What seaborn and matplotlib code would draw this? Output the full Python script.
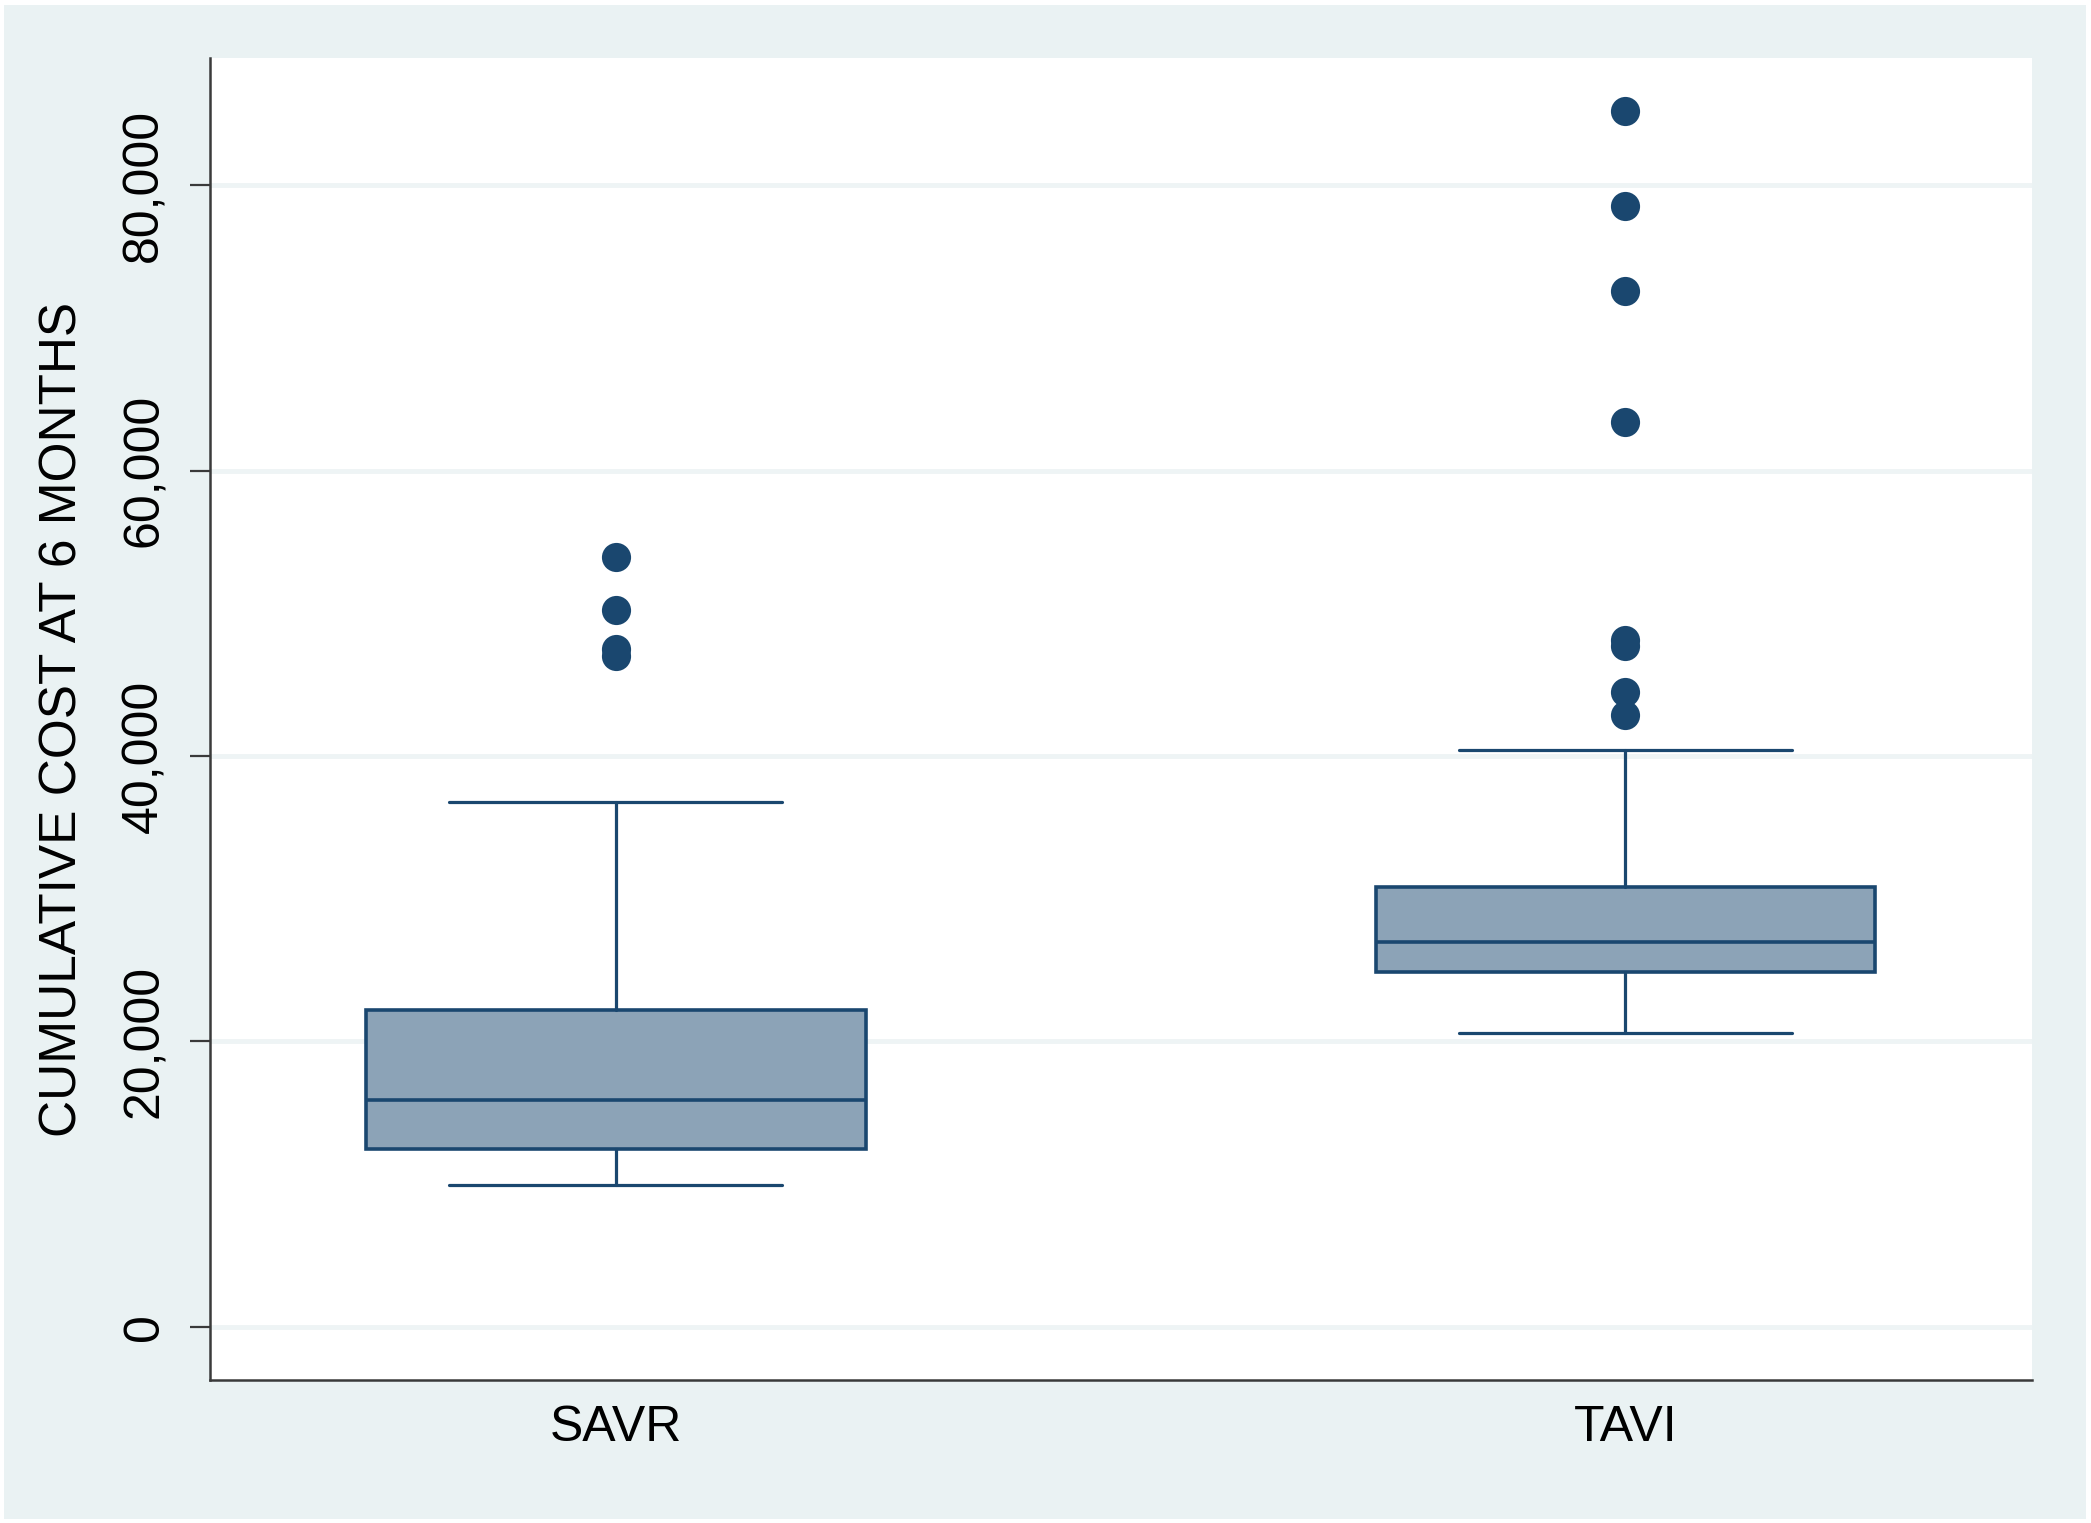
import pandas as pd
import seaborn as sns
import matplotlib.pyplot as plt
from matplotlib.patches import Rectangle
from matplotlib.ticker import FuncFormatter

# === Data ===
groups = ["SAVR", "TAVI"]
whisker_low = [9950, 20570]
q1 = [12450, 24890]
median = [15900, 26990]
q3 = [22200, 30840]
whisker_high = [36800, 40420]
savr_outliers = [53960, 50230, 47500, 47000]
tavi_outliers = [85200, 78500, 72600, 63400, 48100, 47700, 44500, 42900]

y_ticks = [0, 20000, 40000, 60000, 80000]

navy = "#1a476f"
box_fill = "#8ca3b7"
bg = "#eaf2f3"

sns.set_theme(style="white")
plt.rcParams["font.family"] = ["Liberation Sans", "DejaVu Sans"]

fig = plt.figure(figsize=(20.91, 15.23), dpi=100, facecolor="white")
fig.patches.append(Rectangle((4 / 2091, 4 / 1523), 1 - 9 / 2091, 1 - 9 / 1523,
                             transform=fig.transFigure, facecolor=bg,
                             edgecolor="none", zorder=-10))
ax = fig.add_axes([0.1004, 0.0939, 0.8714, 0.868])
ax.set_facecolor("white")

# === Boxes from summary stats ===
stats = []
for i, g in enumerate(groups):
    stats.append({"label": g, "whislo": whisker_low[i], "q1": q1[i],
                  "med": median[i], "q3": q3[i], "whishi": whisker_high[i],
                  "fliers": []})
ax.bxp(stats, positions=[0, 1], widths=0.495, showfliers=False,
       patch_artist=True, manage_ticks=False, capwidths=0.33,
       boxprops=dict(facecolor=box_fill, edgecolor=navy, linewidth=2.6),
       medianprops=dict(color=navy, linewidth=2.6),
       whiskerprops=dict(color=navy, linewidth=2.3),
       capprops=dict(color=navy, linewidth=2.3), zorder=3)

# === Outside values ===
out = pd.DataFrame({
    "group": ["SAVR"] * len(savr_outliers) + ["TAVI"] * len(tavi_outliers),
    "cost": savr_outliers + tavi_outliers,
})
sns.stripplot(data=out, x="group", y="cost", order=groups, jitter=False,
              color=navy, size=21, linewidth=0, ax=ax, zorder=4)

# === Axes styling ===
ax.set_xlim(-0.402, 1.4027)
ax.set_ylim(-3713, 88896)
ax.set_yticks(y_ticks)
ax.yaxis.set_major_formatter(FuncFormatter(lambda v, p: f"{int(v):,}"))
ax.set_xticks([0, 1])
ax.set_xticklabels(groups)
ax.yaxis.grid(True, color="#eef4f5", linewidth=3.5, zorder=0)
ax.xaxis.grid(False)
ax.set_axisbelow(True)

sns.despine(ax=ax)
for side in ["left", "bottom"]:
    ax.spines[side].set_color("#3a3a3a")
    ax.spines[side].set_linewidth(1.8)

ax.tick_params(axis="y", length=14.4, width=1.6, color="#3a3a3a",
               pad=16, labelsize=36, labelcolor="black", left=True)
ax.tick_params(axis="x", length=0, pad=18, labelsize=36, labelcolor="black")
for lab in ax.get_yticklabels():
    lab.set_rotation(90)
    lab.set_va("center")

ax.set_xlabel("")
ax.set_ylabel("CUMULATIVE COST AT 6 MONTHS", fontsize=37, color="black")
ax.yaxis.set_label_coords(-0.067, 0.5)

fig.savefig("out.png", dpi=100, facecolor=fig.get_facecolor())
